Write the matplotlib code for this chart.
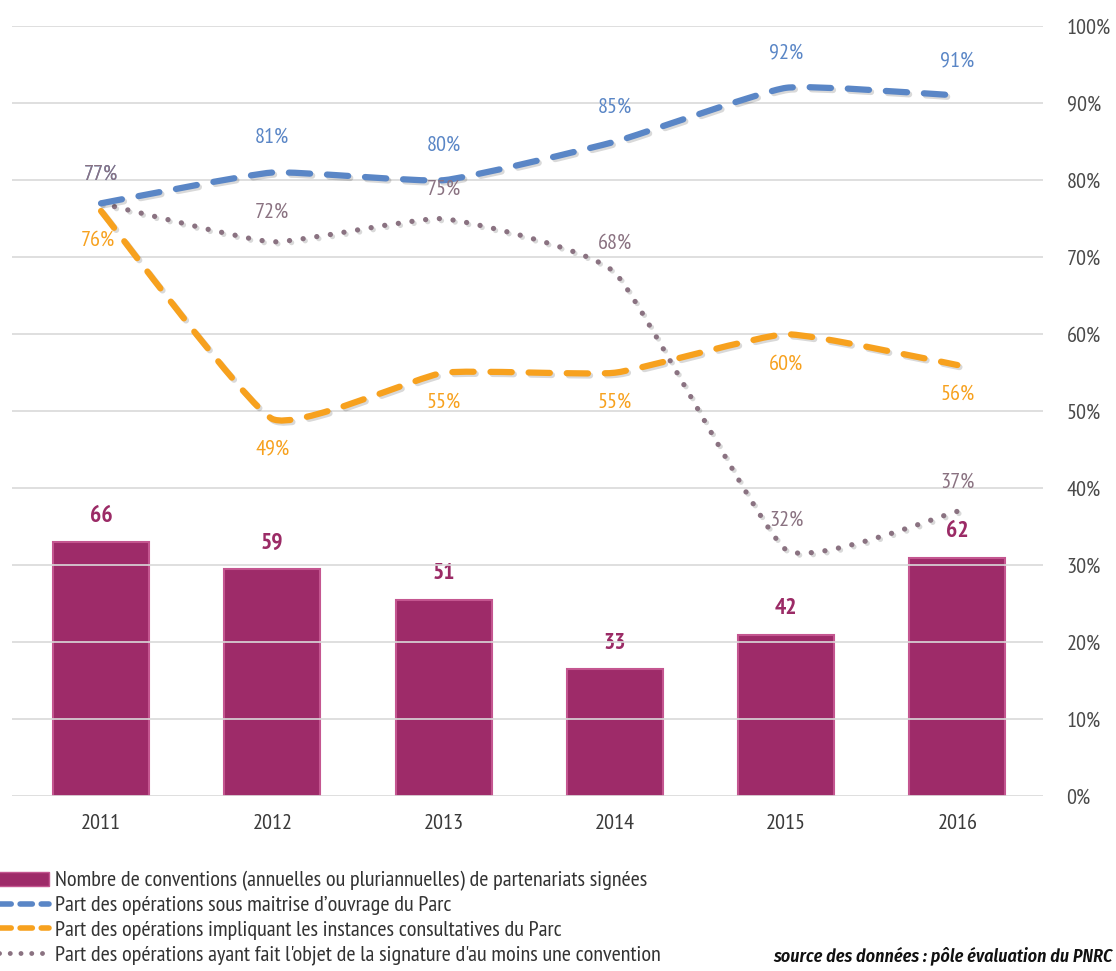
import numpy as np
import matplotlib
matplotlib.use("Agg")
import matplotlib.pyplot as plt
from matplotlib import font_manager as fm
from matplotlib.path import Path
from matplotlib.patches import PathPatch, Patch
from matplotlib.lines import Line2D
import matplotlib.patheffects as pe

# Données
annees = ["2011", "2012", "2013", "2014", "2015", "2016"]
conventions = [66, 59, 51, 33, 42, 62]
maitrise_ouvrage = [77, 81, 80, 85, 92, 91]
instances_consult = [76, 49, 55, 55, 60, 56]
signature_conv = [77, 72, 75, 68, 32, 37]

# police étroite si disponible
candidates = ["PT Sans Narrow", "Fira Sans Condensed", "Encode Sans Condensed",
              "Roboto Condensed", "Asap Condensed", "Archivo Narrow",
              "IBM Plex Sans Condensed", "Open Sans Condensed", "Liberation Sans Narrow"]
dispo = {f.name for f in fm.fontManager.ttflist}
avec_italique = {f.name for f in fm.fontManager.ttflist if f.style == "italic"}
police = [c for c in candidates if c in dispo][:1] + ["DejaVu Sans"]
police_ital = [c for c in candidates if c in avec_italique][:1] + ["DejaVu Sans"]
plt.rcParams["font.family"] = police

c_barre = "#9E2B69"
c_bleu = "#5A86C6"
c_orange = "#F7A11E"
c_mauve = "#8A7281"
c_texte = "#4A4A4A"

fig = plt.figure(figsize=(11.16, 9.71), dpi=100)
ax = fig.add_axes([12 / 1116, 0.180, 1031 / 1116, 0.793])
ax_b = ax.twinx()
ax.set_zorder(ax_b.get_zorder() + 1)
ax.patch.set_visible(False)

x = np.arange(len(annees))

# Barres (axe secondaire caché, 0-200)
ax_b.bar(x, conventions, width=0.56, color=c_barre, edgecolor="#C45690",
         linewidth=1.5, zorder=2)
ax_b.set_ylim(0, 200)
ax_b.set_yticks([])
for xi, v in zip(x, conventions):
    ax_b.text(xi, v + 4, str(v), ha="center", va="bottom", fontsize=17,
              color="#9B2B66", fontweight="bold")


# Courbe lissée (Bézier) passant par les points
def courbe(xs, ys, k=14.0):
    pts = np.column_stack([xs, ys]).astype(float)
    n = len(pts)
    verts = [pts[0]]
    codes = [Path.MOVETO]
    for i in range(n - 1):
        p0 = pts[i - 1] if i > 0 else pts[i]
        p1 = pts[i]
        p2 = pts[i + 1]
        p3 = pts[i + 2] if i + 2 < n else pts[i + 1]
        c1 = p1 + (p2 - p0) / k
        c2 = p2 - (p3 - p1) / k
        verts += [c1, c2, p2]
        codes += [Path.CURVE4] * 3
    return Path(verts, codes)


ombre = [pe.SimpleLineShadow(offset=(1.5, -1.5), alpha=0.15), pe.Normal()]

ax.add_patch(PathPatch(courbe(x, signature_conv), fill=False, edgecolor=c_mauve,
                       linewidth=3.8, linestyle=(0, (0.01, 2.6)), capstyle="round",
                       zorder=3, path_effects=ombre))
ax.add_patch(PathPatch(courbe(x, instances_consult), fill=False, edgecolor=c_orange,
                       linewidth=4.5, linestyle=(0, (3.4, 2.7)), capstyle="round",
                       zorder=4, path_effects=ombre))
ax.add_patch(PathPatch(courbe(x, maitrise_ouvrage), fill=False, edgecolor=c_bleu,
                       linewidth=4.5, linestyle=(0, (3.4, 2.7)), capstyle="round",
                       zorder=5, path_effects=ombre))

# Étiquettes des courbes
fs = 16
for xi, v in zip(x, maitrise_ouvrage):
    dy = 2.6 if xi == 0 else 3.3
    ax.text(xi, v + dy, f"{v}%", ha="center", va="bottom", fontsize=fs,
            color=c_bleu, zorder=6)
for xi, v in zip(x, instances_consult):
    dx = -0.02 if xi == 0 else 0
    ax.text(xi + dx, v - 2.6, f"{v}%", ha="center", va="top", fontsize=fs,
            color=c_orange, zorder=6)
for xi, v in zip(x, signature_conv):
    ax.text(xi, v + 2.6, f"{v}%", ha="center", va="bottom", fontsize=fs,
            color=c_mauve, zorder=7)

ax.set_xlim(-0.52, 5.5)
ax.set_ylim(0, 100)
ax.set_xticks(x)
ax.set_xticklabels(annees, fontsize=16, color="#3A3A3A")
ax.yaxis.tick_right()
ax.set_yticks(np.arange(0, 101, 10))
ax.set_yticklabels([f"{v}%" for v in range(0, 101, 10)], fontsize=16, color=c_texte)
ax.tick_params(axis="y", length=0, pad=17)
ax.tick_params(axis="x", length=0, pad=13)
ax.grid(axis="y", color="#D9D9D9", linewidth=1.2, zorder=0)
for a in (ax, ax_b):
    for s in a.spines.values():
        s.set_visible(False)

# Légende
poignees = [
    Patch(facecolor=c_barre, edgecolor="#C45690"),
    Line2D([], [], color=c_bleu, linewidth=4, linestyle=(0, (2.2, 1.6)), dash_capstyle="round"),
    Line2D([], [], color=c_orange, linewidth=4, linestyle=(0, (2.2, 1.6)), dash_capstyle="round"),
    Line2D([], [], color=c_mauve, linewidth=3.5, linestyle=(0, (0.01, 2.2)), dash_capstyle="round"),
]
libelles = [
    "Nombre de conventions (annuelles ou pluriannuelles) de partenariats signées",
    "Part des opérations sous maitrise d\u2019ouvrage du Parc",
    "Part des opérations impliquant les instances consultatives du Parc",
    "Part des opérations ayant fait l'objet de la signature d'au moins une convention",
]
fig.legend(poignees, libelles, loc="upper left", bbox_to_anchor=(-0.012, 0.112),
           frameon=False, fontsize=16, labelcolor="#333333", handlelength=2.4,
           handleheight=0.6, handletextpad=0.3, labelspacing=0.24, borderaxespad=0)

fig.text(0.997, 0.006, "source des données : pôle évaluation du PNRC", ha="right",
         va="bottom", fontsize=13, style="italic", fontweight="semibold",
         family=police_ital, color="#111111")

fig.savefig("out.png", dpi=100)
